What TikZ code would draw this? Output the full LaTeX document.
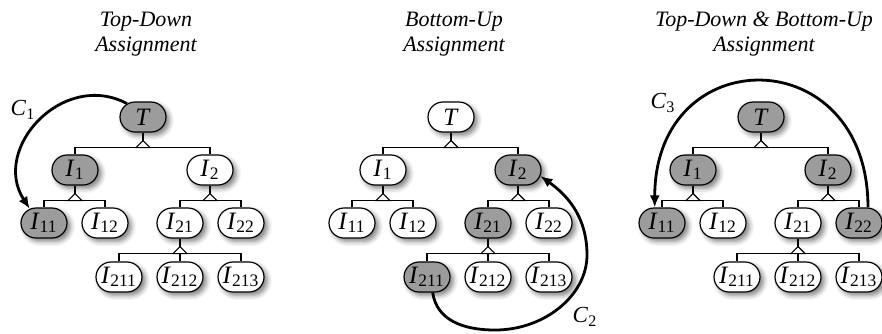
\documentclass[tikz,border=0pt]{standalone}
\usepackage{fontspec}
\setmainfont{Liberation Serif}
\usetikzlibrary{shapes.misc,arrows.meta,calc,shadows.blur}
\definecolor{AsgGray}{HTML}{9C9C9C}

\tikzset{
  item/.style={rounded rectangle, draw, line width=0.6pt, fill=white,
    minimum width=23pt, minimum height=15pt, inner sep=0pt,
    font=\fontsize{12.5}{13}\selectfont,
    blur shadow={shadow xshift=1.7pt, shadow yshift=-1.7pt,
      shadow blur radius=2.4pt, shadow opacity=50}},
  hot/.style={fill=AsgGray},
  cold/.style={fill=white},
  stem/.style={line width=1pt},
  bar/.style={line width=0.6pt},
  wedge/.style={line width=0.6pt, fill=white},
  cyclearrow/.style={line width=1.4pt, -{Latex[length=6pt,width=5pt]}},
  title/.style={align=center, inner sep=0pt,
    font=\itshape\fontsize{11}{12.5}\selectfont},
  clabel/.style={inner sep=0pt, font=\fontsize{11.5}{12}\selectfont}
}

\newcommand{\itm}[1]{\textit{I}\textsubscript{#1}}
\newcommand{\cname}[1]{\textit{C}\textsubscript{#1}}

% parent, children
\newcommand{\fork}[2]{%
  \coordinate (#1-bar) at ($(#1.south)+(0,15)$);
  \draw[stem] (#1.south) -- ($(#1-bar)+(0,-7)$);
  \foreach \c in {#2} \draw[bar] (#1-bar) -| (\c.north);
  \draw[wedge] ($(#1-bar)+(-7,0)$) -- ($(#1-bar)+(0,-7)$)
    -- ($(#1-bar)+(7,0)$) -- cycle;
}

% prefix, then fills of T, I1, I2, I11, I12, I21, I22, I211
\def\treedx{0}
\newcommand{\assigntree}[9]{%
  \node[item,#2] (#1T)    at ({143+\treedx},117) {\textit{T}};
  \node[item,#3] (#1I1)   at ({75+\treedx},170)  {\itm{1}};
  \node[item,#4] (#1I2)   at ({210+\treedx},170) {\itm{2}};
  \node[item,#5] (#1I11)  at ({44+\treedx},223)  {\itm{11}};
  \node[item,#6] (#1I12)  at ({105+\treedx},223) {\itm{12}};
  \node[item,#7] (#1I21)  at ({180+\treedx},223) {\itm{21}};
  \node[item,#8] (#1I22)  at ({241+\treedx},223) {\itm{22}};
  \node[item,#9] (#1I211) at ({119+\treedx},277) {\itm{211}};
  \node[item]    (#1I212) at ({180+\treedx},277) {\itm{212}};
  \node[item]    (#1I213) at ({241+\treedx},277) {\itm{213}};
  \fork{#1T}{#1I1,#1I2}
  \fork{#1I1}{#1I11,#1I12}
  \fork{#1I2}{#1I21,#1I22}
  \fork{#1I21}{#1I211,#1I212,#1I213}
}

\begin{document}
\begin{tikzpicture}[x=0.5pt,y=-0.5pt]
  \useasboundingbox (0,0) rectangle (882,333);

  % titles
  \node[title] (ta) at (146,34) {Top-Down\\Assignment};
  \node[title] (tb) at (454,34) {Bottom-Up\\Assignment};
  \node[title] (tc) at (764,34) {Top-Down \& Bottom-Up\\Assignment};

  % the three trees
  \def\treedx{0}
  \assigntree{a}{hot}{hot}{cold}{hot}{cold}{cold}{cold}{cold}
  \def\treedx{308}
  \assigntree{b}{cold}{cold}{hot}{cold}{cold}{hot}{cold}{hot}
  \def\treedx{618}
  \assigntree{c}{hot}{hot}{hot}{hot}{cold}{cold}{hot}{cold}

  % C1: top-down
  \draw[cyclearrow] (aT.140) .. controls +(-64,-34) and +(-39,-60) .. (aI11.135);
  \node[clabel] (c1) at (23,110) {\cname{1}};

  % C2: bottom-up
  \coordinate (c2low) at (495,330);
  \coordinate (c2right) at (587,255);
  \draw[cyclearrow] (bI211.-70) .. controls +(4,27) and +(-33,0) .. (c2low)
    .. controls +(50,0) and +(0,40) .. (c2right)
    .. controls +(0,-40) and +(25,18) .. (bI2.-15);
  \node[clabel] (c2) at (585,317) {\cname{2}};

  % C3: both ways
  \draw[cyclearrow] (cI22.60) .. controls +(0,-168) and +(0,-168) .. (cI11.115);
  \node[clabel] (c3) at (663,103) {\cname{3}};
\end{tikzpicture}
\end{document}
